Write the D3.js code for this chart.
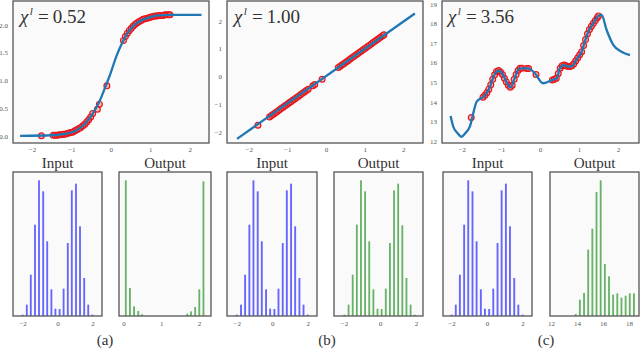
<!DOCTYPE html>
<html>
<head>
<meta charset="utf-8">
<script src="https://cdn.jsdelivr.net/npm/d3@7"></script>
<style>
  body { margin: 0; background: #fff; }
  svg { display: block; }
  text { font-family: "Liberation Serif", "DejaVu Serif", serif; }
  .tick text { fill: #555; font-size: 7px; }
</style>
</head>
<body>
<div id="chart"></div>
<script>
// sampled inputs (shared by the three mappings)
const inputX = [-1.76,
  -1.46, -1.41, -1.36, -1.31, -1.26, -1.21, -1.16, -1.11, -1.06, -1.01, -0.96,
  -0.91, -0.86, -0.81, -0.76, -0.71, -0.66, -0.61, -0.56, -0.51, -0.46,
  -0.34, -0.29, -0.10,
  0.32, 0.37, 0.42, 0.47, 0.52, 0.57, 0.62, 0.67, 0.72, 0.77, 0.82, 0.87, 0.92,
  0.97, 1.02, 1.07, 1.12, 1.17, 1.22, 1.27, 1.32, 1.37, 1.42, 1.47, 1.50];

const outA = [0.00,
  0.01, 0.01, 0.01, 0.02, 0.02, 0.03, 0.03, 0.04, 0.05, 0.06, 0.07,
  0.09, 0.11, 0.13, 0.15, 0.18, 0.21, 0.25, 0.29, 0.34, 0.40,
  0.48, 0.57, 0.90,
  1.72, 1.79, 1.85, 1.90, 1.94, 1.98, 2.01, 2.04, 2.06, 2.08, 2.10, 2.11, 2.12,
  2.13, 2.14, 2.15, 2.16, 2.16, 2.17, 2.17, 2.17, 2.18, 2.18, 2.18, 2.18];

const outB = [-1.76,
  -1.46, -1.41, -1.36, -1.31, -1.26, -1.21, -1.16, -1.11, -1.06, -1.01, -0.96,
  -0.91, -0.86, -0.81, -0.76, -0.71, -0.66, -0.61, -0.56, -0.51, -0.46,
  -0.34, -0.29, -0.10,
  0.32, 0.37, 0.42, 0.47, 0.52, 0.57, 0.62, 0.67, 0.72, 0.77, 0.82, 0.87, 0.92,
  0.97, 1.02, 1.07, 1.12, 1.17, 1.22, 1.27, 1.32, 1.37, 1.42, 1.47, 1.50];

const outC = [13.20,
  14.24, 14.34, 14.46, 14.65, 14.87, 15.15, 15.38, 15.55, 15.60, 15.52, 15.40,
  15.20, 15.02, 14.85, 14.75, 14.85, 15.15, 15.40, 15.60, 15.72, 15.72,
  15.71, 15.70, 15.40,
  15.12, 15.15, 15.20, 15.45, 15.72, 15.85, 15.88, 15.84, 15.80, 15.80, 15.84, 15.95, 16.10,
  16.25, 16.40, 16.56, 16.88, 17.18, 17.48, 17.70, 17.86, 18.01, 18.15, 18.30, 18.39];

// fitted curves
const curveAX = [-2.3, -1.5, -1.2, -1.0, -0.8, -0.6, -0.45, -0.3, -0.15, 0, 0.15, 0.3, 0.45, 0.6, 0.8, 1.0, 1.2, 1.5, 2.3];
const curveAY = [0, 0.01, 0.03, 0.06, 0.13, 0.26, 0.41, 0.60, 0.86, 1.14, 1.45, 1.69, 1.88, 2.00, 2.09, 2.14, 2.17, 2.18, 2.18];

const curveBX = [-2.3, 2.3];
const curveBY = [-2.25, 2.27];

const curveCX = [-2.29, -2.22, -2.12, -2.01, -1.92, -1.79, -1.73, -1.62, -1.45, -1.37, -1.28, -1.18, -1.07,
  -0.94, -0.84, -0.75, -0.64, -0.53, -0.41, -0.30, -0.13, 0.08, 0.30, 0.43, 0.51, 0.60, 0.75,
  0.84, 0.94, 1.07, 1.15, 1.24, 1.37, 1.50, 1.58, 1.71, 1.88, 2.09, 2.31];
const curveCY = [13.28, 12.73, 12.42, 12.22, 12.39, 12.77, 13.24, 14.01, 14.26, 14.43, 14.77, 15.32, 15.59,
  15.37, 14.95, 14.74, 15.25, 15.71, 15.71, 15.71, 15.46, 14.95, 15.11, 15.20, 15.71, 15.88, 15.80,
  15.85, 16.17, 16.56, 17.07, 17.58, 18.01, 18.39, 18.44, 17.67, 16.91, 16.56, 16.39];

const chiLabels = ["0.52", "1.00", "3.56"];

// histograms
const inCenters = [-2.0, -1.76, -1.53, -1.29, -1.06, -0.82, -0.59, -0.35, -0.12, 0.12, 0.35, 0.59, 0.82, 1.06, 1.29, 1.53, 1.76, 2.0];
const inCounts = [4, 34, 124, 274, 407, 374, 224, 80, 22, 21, 82, 219, 377, 397, 269, 114, 34, 4];

const outACenters = [0.06, 0.17, 0.28, 0.39, 0.49, 0.60, 0.71, 0.82, 0.93, 1.04, 1.14, 1.25, 1.36, 1.47, 1.58, 1.69, 1.79, 1.90, 2.01, 2.12];
const outACounts = [407, 84, 29, 15, 5, 0, 0, 0, 0, 0, 0, 0, 0, 0, 0, 7, 14, 27, 80, 404];

const outBCenters = [-1.98, -1.75, -1.52, -1.29, -1.06, -0.83, -0.60, -0.37, -0.14, 0.09, 0.32, 0.55, 0.78, 1.01, 1.24, 1.47, 1.70, 1.93];
const outBCounts = [4, 34, 124, 274, 407, 374, 224, 80, 22, 21, 82, 219, 377, 397, 272, 114, 34, 4];

const outCCenters = [13.90, 14.22, 14.54, 14.86, 15.18, 15.50, 15.82, 16.14, 16.46, 16.78, 17.10, 17.42, 17.74, 18.06, 18.38];
const outCCounts = [6, 49, 69, 199, 262, 372, 407, 156, 119, 64, 68, 55, 61, 68, 68];

const panelNames = ["(a)", "(b)", "(c)"];

const width = 640, height = 350;
const frameColor = "#555";
const bgColor = "#fafafa";
const lineColor = "#1f77b4";
const serif = '"Liberation Serif", "DejaVu Serif", serif';
const intFmt = d3.format("d");

const svg = d3.select("#chart").append("svg")
  .attr("width", width)
  .attr("height", height);

function frame(g, x0, x1, y0, y1) {
  g.append("rect")
    .attr("x", x0).attr("y", y0)
    .attr("width", x1 - x0).attr("height", y1 - y0)
    .attr("fill", bgColor);
}
function border(g, x0, x1, y0, y1) {
  g.append("rect")
    .attr("x", x0).attr("y", y0)
    .attr("width", x1 - x0).attr("height", y1 - y0)
    .attr("fill", "none")
    .attr("stroke", frameColor)
    .attr("stroke-width", 1.3);
}
function plainAxis(a) {
  a.attr("font-family", serif).attr("font-size", 7);
  a.select(".domain").remove();
}

function drawTop(p) {
  const g = svg.append("g");
  const x = d3.scaleLinear().domain(p.xDomain).range([p.left, p.right]);
  const y = d3.scaleLinear().domain(p.yDomain).range([143, 1]);
  frame(g, p.left, p.right, 1, 143);

  g.append("g")
    .attr("transform", "translate(0,143)")
    .call(d3.axisBottom(x).tickValues([-2, -1, 0, 1, 2]).tickSize(0).tickPadding(4).tickFormat(intFmt))
    .call(plainAxis);
  g.append("g")
    .attr("transform", "translate(" + p.left + ",0)")
    .call(d3.axisLeft(y).tickValues(p.yTicks).tickSize(0).tickPadding(5).tickFormat(p.fmt))
    .call(plainAxis);

  const clip = "clip" + p.id;
  g.append("clipPath").attr("id", clip)
    .append("rect").attr("x", p.left).attr("y", 1)
    .attr("width", p.right - p.left).attr("height", 142);

  const pts = inputX.map((v, i) => [v, p.out[i]]);
  g.append("g").attr("clip-path", "url(#" + clip + ")")
    .selectAll("circle")
    .data(pts)
    .enter()
    .append("circle")
    .attr("cx", d => x(d[0]))
    .attr("cy", d => y(d[1]))
    .attr("r", 2.9)
    .attr("fill", "rgba(255,90,90,0.4)")
    .attr("stroke", "#e8161b")
    .attr("stroke-width", 1.2);

  const line = d3.line()
    .x(d => x(d[0]))
    .y(d => y(d[1]))
    .curve(p.curve);
  g.append("path")
    .datum(p.cx.map((v, i) => [v, p.cy[i]]))
    .attr("clip-path", "url(#" + clip + ")")
    .attr("fill", "none")
    .attr("stroke", lineColor)
    .attr("stroke-width", 2.3)
    .attr("stroke-linejoin", "round")
    .attr("d", line);

  border(g, p.left, p.right, 1, 143);

  const t = g.append("text")
    .attr("x", p.chiX).attr("y", 23)
    .attr("font-family", serif)
    .attr("font-size", 19)
    .attr("fill", "#333");
  t.append("tspan").attr("font-style", "italic").text("χ");
  t.append("tspan").attr("font-style", "italic").attr("font-size", 11).attr("dy", -8).attr("dx", 1.5).text("l");
  t.append("tspan").attr("dy", 8).attr("dx", 5).text("=");
  t.append("tspan").attr("dx", 4).text(p.chi);
}

function drawHist(h) {
  const g = svg.append("g");
  const top = 172, bottom = 316;
  const x = d3.scaleLinear().domain(h.xDomain).range([h.left, h.right]);
  const y = d3.scaleLinear().domain([0, 432]).range([bottom, top]);
  frame(g, h.left, h.right, top, bottom);

  const step = x(h.centers[1]) - x(h.centers[0]);
  const bw = step * 0.44;
  g.selectAll("rect.bar")
    .data(h.counts)
    .enter()
    .append("rect")
    .attr("class", "bar")
    .attr("x", (d, i) => x(h.centers[i]) - bw / 2)
    .attr("y", d => y(d))
    .attr("width", bw)
    .attr("height", d => bottom - y(d))
    .attr("fill", h.color);

  g.append("g")
    .attr("transform", "translate(0," + bottom + ")")
    .call(d3.axisBottom(x).tickValues(h.ticks).tickSize(0).tickPadding(5).tickFormat(intFmt))
    .call(plainAxis);

  border(g, h.left, h.right, top, bottom);

  g.append("text")
    .attr("x", (h.left + h.right) / 2).attr("y", 168)
    .attr("text-anchor", "middle")
    .attr("font-size", 15)
    .attr("fill", "#333")
    .text(h.title);
}

const tops = [
  { id: "a", left: 13, right: 209, xDomain: [-2.48, 2.49], yDomain: [-0.13, 2.43],
    yTicks: [0, 0.5, 1, 1.5, 2], fmt: d3.format(".1f"), out: outA, cx: curveAX, cy: curveAY,
    curve: d3.curveMonotoneX, chi: chiLabels[0], chiX: 20 },
  { id: "b", left: 227, right: 423, xDomain: [-2.56, 2.51], yDomain: [-2.40, 2.72],
    yTicks: [-2, -1, 0, 1, 2], fmt: intFmt, out: outB, cx: curveBX, cy: curveBY,
    curve: d3.curveLinear, chi: chiLabels[1], chiX: 234 },
  { id: "c", left: 442, right: 639, xDomain: [-2.51, 2.54], yDomain: [11.9, 19.15],
    yTicks: [12, 13, 14, 15, 16, 17, 18, 19], fmt: intFmt, out: outC, cx: curveCX, cy: curveCY,
    curve: d3.curveMonotoneX, chi: chiLabels[2], chiX: 448 }
];
tops.forEach(drawTop);

const blue = "#6666ff", green = "#66b266";
const hists = [
  { left: 13, right: 102, xDomain: [-2.55, 2.55], centers: inCenters, counts: inCounts, ticks: [-2, 0, 2], color: blue, title: "Input" },
  { left: 119, right: 211, xDomain: [-0.12, 2.32], centers: outACenters, counts: outACounts, ticks: [0, 1, 2], color: green, title: "Output" },
  { left: 227, right: 317, xDomain: [-2.55, 2.52], centers: inCenters, counts: inCounts, ticks: [-2, 0, 2], color: blue, title: "Input" },
  { left: 334, right: 423, xDomain: [-2.56, 2.39], centers: outBCenters, counts: outBCounts, ticks: [-2, 0, 2], color: green, title: "Output" },
  { left: 443, right: 532, xDomain: [-2.48, 2.53], centers: inCenters, counts: inCounts, ticks: [-2, 0, 2], color: blue, title: "Input" },
  { left: 550, right: 639, xDomain: [11.92, 18.77], centers: outCCenters, counts: outCCounts, ticks: [12, 14, 16, 18], color: green, title: "Output" }
];
hists.forEach(drawHist);

// panel captions
const captionX = [105, 327, 546];
svg.selectAll("text.caption")
  .data(panelNames)
  .enter()
  .append("text")
  .attr("class", "caption")
  .attr("x", (d, i) => captionX[i])
  .attr("y", 345)
  .attr("text-anchor", "middle")
  .attr("font-size", 15)
  .attr("fill", "#333")
  .text(d => d);
</script>
</body>
</html>
